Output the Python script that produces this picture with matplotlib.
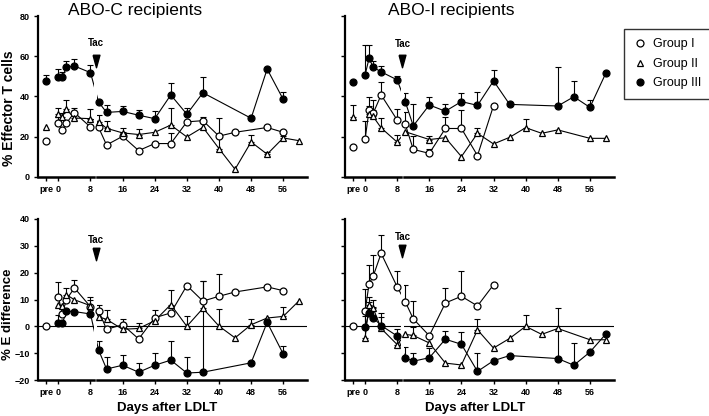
import numpy as np
import matplotlib
matplotlib.use('Agg')
import matplotlib.pyplot as plt
from matplotlib.lines import Line2D

plt.rcParams['font.family'] = ['Liberation Sans', 'DejaVu Sans']

# --- data (days after LDLT, 'pre' = before transplant) ---
PRE_X = -3
TAC_DAY = 9.3
GAP = (8.9, 9.7)

# ABO-C, % effector T cells
tl_I_days = ['pre', 0, 1, 2, 4, 8, 10, 12, 16, 20, 24, 28, 32, 36, 40, 44, 52, 56]
tl_I_vals = [17.8, 26.8, 23.2, 26.7, 31.9, 24.7, 24.6, 15.8, 20.1, 13, 16.5, 16.5, 27.3, 27.9, 20.2, 22.1, 24.5, 22.1]
tl_I_err = [0, 3, 0, 0, 2.5, 0, 0, 0, 2, 0, 0, 5.3, 0, 2, 0, 0, 0, 0]
tl_II_days = ['pre', 0, 1, 2, 4, 8, 10, 12, 16, 20, 24, 28, 32, 36, 40, 44, 48, 52, 56, 60]
tl_II_vals = [24.5, 31.3, 29.8, 33.5, 29.2, 28.9, 27.4, 24.1, 21.8, 21, 22.1, 25.7, 19.8, 24.6, 14, 3.7, 17.3, 11.2, 19.3, 17.9]
tl_II_err = [0, 3, 2, 4.7, 3, 5, 3.5, 3.8, 2.5, 2.5, 0, 8.3, 0, 0, 15, 0, 3.4, 1.2, 1, 0]
tl_III_days = ['pre', 0, 1, 2, 4, 8, 10, 12, 16, 20, 24, 28, 32, 36, 48, 52, 56]
tl_III_vals = [47.8, 49.4, 49.6, 54.4, 55.1, 51.8, 37.2, 32, 32.5, 30.6, 28.9, 40.7, 31.1, 41.8, 29.1, 53.6, 38.5]
tl_III_err = [3, 4, 2.5, 3, 3.5, 4, 0, 3.5, 2.5, 2.7, 4, 6, 3, 8, 0, 0, 3.8]

# ABO-I, % effector T cells
tr_I_days = ['pre', 0, 1, 2, 4, 8, 10, 12, 16, 20, 24, 28, 32]
tr_I_vals = [15, 18.6, 33.2, 31.5, 40.7, 28.2, 26.2, 13.6, 11.6, 24, 24, 10.5, 35.4]
tr_I_err = [0, 9, 6.5, 6.5, 6.5, 5.5, 6, 6.5, 2, 5.5, 9, 0, 0]
tr_II_days = ['pre', 1, 2, 4, 8, 10, 16, 20, 24, 28, 32, 36, 40, 44, 48, 56, 60]
tr_II_vals = [29.9, 31, 30, 24.3, 17.2, 22.4, 18.5, 19.4, 10, 21.6, 16.3, 19.6, 24.4, 21.6, 23.3, 19.1, 19.1]
tr_II_err = [6, 4, 3, 4.8, 3.5, 0, 2, 0, 0, 2.8, 0, 0, 4.2, 0, 0, 0, 0]
tr_III_days = ['pre', 0, 1, 2, 4, 8, 10, 12, 16, 20, 24, 28, 32, 36, 48, 52, 56, 60]
tr_III_vals = [47, 50.6, 59, 54.5, 52.2, 48.2, 37.4, 25.3, 35.7, 32.6, 37.4, 35.5, 47.7, 36, 35.2, 39.8, 34.5, 51.7]
tr_III_err = [0, 15, 6.6, 3, 3, 2, 4.5, 11, 4, 3.8, 4.5, 6.6, 5.5, 0, 19.6, 8, 3.5, 0]

# ABO-C, % E difference
bl_I_days = ['pre', 0, 1, 2, 4, 8, 10, 12, 16, 20, 24, 28, 32, 36, 40, 44, 52, 56]
bl_I_vals = [0, 10.8, 4.7, 10, 14.3, 7.3, 5.9, -1.1, 0.6, -4.7, 3.2, 5, 15.2, 9.4, 11.2, 12.8, 14.7, 13.3]
bl_I_err = [0, 5.6, 0, 0, 2.8, 3.8, 2, 0, 2, 0, 2.8, 0, 0, 0, 8.3, 0, 0, 0]
bl_II_days = [0, 1, 2, 4, 8, 10, 12, 16, 20, 24, 28, 32, 36, 40, 44, 48, 52, 56, 60]
bl_II_vals = [8.1, 7.5, 11.8, 9.9, 7.7, 3.6, 2.6, -1.1, -0.8, 2.1, 8.1, 0, 6.7, 0.1, -4.3, 0.6, 3.1, 3.7, 9.6]
bl_II_err = [0, 0, 2.6, 0, 2, 0, 3.4, 0, 2, 0, 5.3, 4, 10.3, 6.5, 0, 2.1, 0, 3.5, 0]
bl_III_days = [0, 1, 2, 4, 8, 10, 12, 16, 20, 24, 28, 32, 36, 48, 52, 56]
bl_III_vals = [1.4, 1.1, 5.6, 5.5, 4.6, -8.8, -15.9, -14.5, -17.1, -14.5, -12.6, -17.4, -17.1, -13.6, 1.5, -10.3]
bl_III_err = [3, 0, 0, 0, 0, 3.2, 4.3, 3.9, 3.4, 4.6, 7.3, 6, 34, 0, 0, 2.8]

# ABO-I, % E difference
br_I_days = ['pre', 0, 1, 2, 4, 8, 10, 12, 16, 20, 24, 28, 32]
br_I_vals = [0, 5.6, 15.9, 18.6, 27.2, 14.7, 9.2, 2.8, -3.5, 8.7, 11.2, 7.6, 15.5]
br_I_err = [0, 8.3, 6.8, 8, 7, 5.8, 6.2, 6.8, 0, 5.6, 9.6, 0, 0]
br_II_days = [0, 1, 2, 4, 8, 10, 12, 16, 20, 24, 28, 32, 36, 40, 44, 48, 56, 60]
br_II_vals = [-4.3, 7.8, 6.8, -0.8, -6.8, -3, -3.4, -6.2, -13.7, -14.4, -1.3, -8.1, -4.5, 0, -3, -0.8, -5, -5]
br_II_err = [8, 3, 3, 5.8, 3, 0, 3, 0, 0, 0, 4.1, 0, 0, 4.3, 0, 0, 0, 0]
br_III_days = [0, 1, 2, 4, 8, 10, 12, 16, 20, 24, 28, 32, 36, 48, 52, 56, 60]
br_III_vals = [-0.4, 5, 3.2, 0.3, -3.6, -11.7, -13, -11.7, -4.8, -6.7, -16.8, -12.8, -10.9, -12, -14.5, -9.6, -2.8]
br_III_err = [7, 4, 4, 3, 2.5, 4, 3, 3.5, 3, 4.5, 6.9, 0, 0, 19, 8.3, 0, 0]

xtick_days = ['pre', 0, 8, 16, 24, 32, 40, 48, 56]

STYLES = {
    'I': dict(marker='o', mfc='white', ms=5),
    'II': dict(marker='^', mfc='white', ms=5),
    'III': dict(marker='o', mfc='black', ms=5),
}

# narrow downward arrowhead used for the "Tac" mark
TAC_MARKER = [(-0.55, 1), (0.55, 1), (0, -1), (-0.55, 1)]


def to_x(d):
    return PRE_X if d == 'pre' else d


def draw_group(ax, days, vals, errs, key):
    xs = np.array([to_x(d) for d in days], float)
    vals = np.array(vals, float)
    errs = np.array(errs, float)
    has = errs > 0
    ax.errorbar(xs[has], vals[has], yerr=[np.zeros(has.sum()), errs[has]], fmt='none',
                ecolor='k', elinewidth=0.8, capsize=2, capthick=0.8, zorder=2)
    main = np.array([d != 'pre' for d in days])
    ax.plot(xs[main], vals[main], '-', color='k', lw=0.8, zorder=3)
    st = STYLES[key]
    ax.plot(xs, vals, linestyle='none', marker=st['marker'], ms=st['ms'],
            mfc=st['mfc'], mec='k', mew=0.9, zorder=4)


def setup(ax, ylim, yticks, tac_y, zero_line=False):
    ax.set_xlim(-5, 62)
    ax.set_ylim(*ylim)
    ax.spines['top'].set_visible(False)
    ax.spines['right'].set_visible(False)
    ax.spines['bottom'].set_visible(False)
    ax.spines['left'].set_linewidth(1.6)
    # broken x axis
    tr = ax.get_xaxis_transform()
    ax.plot([-5, GAP[0]], [0, 0], transform=tr, color='k', lw=1.8, clip_on=False, zorder=6)
    ax.plot([GAP[1], 62], [0, 0], transform=tr, color='k', lw=1.8, clip_on=False, zorder=6)
    ax.axvspan(GAP[0], GAP[1], color='white', lw=0, zorder=3.5)
    if zero_line:
        ax.axhline(0, color='k', lw=0.8, zorder=1)
    ax.set_xticks([to_x(d) for d in xtick_days])
    ax.set_xticklabels([str(d) for d in xtick_days])
    ax.set_yticks(yticks)
    ax.tick_params(axis='both', direction='out', length=3, width=1, labelsize=6.5, pad=3)
    for lab in ax.get_xticklabels() + ax.get_yticklabels():
        lab.set_fontweight('bold')
    ax.plot([TAC_DAY], [tac_y[0]], marker=TAC_MARKER, color='k', ms=9, zorder=7, clip_on=False)
    ax.text(TAC_DAY, tac_y[1], 'Tac', fontsize=7, fontweight='bold', ha='center', va='center', zorder=7)


W, H = 709, 416
fig = plt.figure(figsize=(W / 100, H / 100), dpi=100)

ax_tl = fig.add_axes([38.3 / W, 1 - 176.7 / H, 269 / W, 160.7 / H])
ax_tr = fig.add_axes([345 / W, 1 - 176.7 / H, 269 / W, 160.7 / H])
ax_bl = fig.add_axes([38.3 / W, 1 - 380 / H, 269 / W, 161 / H])
ax_br = fig.add_axes([345 / W, 1 - 380 / H, 269 / W, 161 / H])

panels = [
    (ax_tl, [(tl_I_days, tl_I_vals, tl_I_err), (tl_II_days, tl_II_vals, tl_II_err), (tl_III_days, tl_III_vals, tl_III_err)]),
    (ax_tr, [(tr_I_days, tr_I_vals, tr_I_err), (tr_II_days, tr_II_vals, tr_II_err), (tr_III_days, tr_III_vals, tr_III_err)]),
    (ax_bl, [(bl_I_days, bl_I_vals, bl_I_err), (bl_II_days, bl_II_vals, bl_II_err), (bl_III_days, bl_III_vals, bl_III_err)]),
    (ax_br, [(br_I_days, br_I_vals, br_I_err), (br_II_days, br_II_vals, br_II_err), (br_III_days, br_III_vals, br_III_err)]),
]
for ax, groups in panels:
    for key, (d, v, e) in zip(['I', 'II', 'III'], groups):
        draw_group(ax, d, v, e, key)

setup(ax_tl, (0, 80), [0, 20, 40, 60, 80], (57.5, 66.5))
setup(ax_tr, (0, 80), [0, 20, 40, 60, 80], (57.5, 66))
setup(ax_bl, (-20, 40), [-20, -10, 0, 10, 20, 30, 40], (27, 32.3), zero_line=True)
setup(ax_br, (-20, 40), [-20, -10, 0, 10, 20, 30, 40], (28, 33.3), zero_line=True)
ax_tr.set_yticklabels([])
ax_br.set_yticklabels([])

fig.text(135 / W, 1 - 11 / H, 'ABO-C recipients', ha='center', va='center', fontsize=12.5)
fig.text(451 / W, 1 - 11 / H, 'ABO-I recipients', ha='center', va='center', fontsize=12.5)
fig.text(9 / W, 1 - 108 / H, '% Effector T cells', rotation=90, ha='center', va='center',
         fontsize=10, fontweight='bold')
fig.text(8.5 / W, 1 - 314 / H, '% E difference', rotation=90, ha='center', va='center',
         fontsize=9.5, fontweight='bold')
for xc in (167, 475):
    fig.text(xc / W, 1 - 408 / H, 'Days after LDLT', ha='center', va='center',
             fontsize=9.5, fontweight='bold')

handles = [Line2D([], [], linestyle='none', marker=STYLES[k]['marker'], ms=5,
                  mfc=STYLES[k]['mfc'], mec='k', mew=0.9) for k in ['I', 'II', 'III']]
leg = fig.legend(handles, ['Group I', 'Group II', 'Group III'], loc='upper left',
                 bbox_to_anchor=(624 / W, 1 - 29 / H), fontsize=9, frameon=True,
                 fancybox=False, edgecolor='k', handlelength=1, handletextpad=0.6,
                 labelspacing=0.6, borderpad=0.75, borderaxespad=0)
leg.get_frame().set_linewidth(1)

fig.savefig('out.png', dpi=100)
